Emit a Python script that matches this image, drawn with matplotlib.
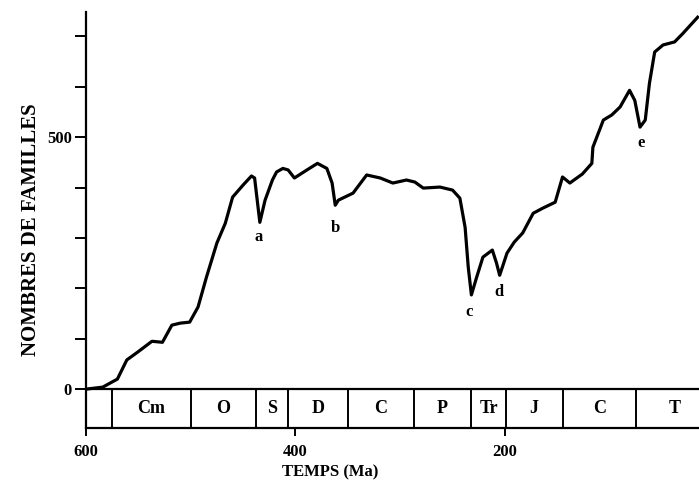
import numpy as np
import matplotlib
matplotlib.use("Agg")
import matplotlib.pyplot as plt

# courbe (Ma, nombre de familles)
ages = [600, 584, 570, 561, 551, 537, 527, 518, 510, 501, 493, 485, 475, 467,
        460, 450, 442, 439, 434, 429, 422, 418, 412, 407, 401, 389, 379, 370,
        365, 362, 359, 345, 332, 319, 307, 294, 286, 278, 262, 250, 243, 238,
        235, 232, 227, 221, 212, 208, 205, 198, 191, 183, 173, 164, 152, 145,
        138, 126, 117, 116, 106, 98, 90, 81, 76, 71, 66, 62, 57, 49, 38, 30, 16]
familles = [0, 4, 20, 58, 73, 95, 93, 127, 131, 133, 163, 222, 290, 329,
            381, 405, 423, 419, 331, 375, 415, 431, 438, 435, 419, 435, 448, 438,
            409, 365, 375, 389, 425, 419, 409, 415, 411, 399, 401, 395, 379, 321,
            242, 187, 222, 262, 276, 250, 226, 270, 292, 310, 349, 359, 371, 421,
            409, 427, 448, 480, 534, 544, 560, 593, 573, 520, 534, 607, 669, 683, 689, 706, 738]

# crises (lettres sous les creux)
crise_lettres = ["a", "b", "c", "d", "e"]
crise_age = [435, 362, 234, 206, 70]
crise_y = [302, 319, 153, 192, 488]

# periodes geologiques
limites = [600, 575, 500, 438, 407, 350, 287, 232, 199, 145, 75, 0]
periodes = ["", "Cm", "O", "S", "D", "C", "P", "Tr", "J", "C", "T"]

plt.rcParams['font.family'] = ['Liberation Serif', 'DejaVu Serif']
plt.rcParams['font.weight'] = 'bold'

fig = plt.figure(figsize=(6.99, 4.88), dpi=100)
ax = fig.add_axes([0.123, 0.122, 0.899, 0.853])

bas = -78
ax.plot(ages, familles, color='black', lw=2.3, solid_joinstyle='round')

# bandeau des periodes
ax.axhline(0, color='black', lw=1.6)
for b in limites[1:-1]:
    ax.plot([b, b], [bas, 0], color='black', lw=1.4)
for i, p in enumerate(periodes):
    xm = (limites[i] + limites[i + 1]) / 2
    ax.text(xm, bas / 2, p, ha='center', va='center', fontsize=13, fontweight='bold')

for l, xa, ya in zip(crise_lettres, crise_age, crise_y):
    ax.text(xa, ya, l, ha='center', va='center', fontsize=12, fontweight='bold')

ax.set_xlim(600, 0)
ax.set_ylim(bas, 748)
ax.spines['top'].set_visible(False)
ax.spines['right'].set_visible(False)
ax.spines['left'].set_linewidth(1.6)
ax.spines['bottom'].set_linewidth(1.6)

ax.set_yticks(np.arange(0, 800, 100))
ax.set_yticklabels(["0", "", "", "", "", "500", "", ""])
ax.set_xticks([600, 400, 200, 0])
ax.set_xticklabels(["600", "400", "200", "0"])
ax.tick_params(axis='y', direction='out', length=8, width=1.4, labelsize=12, pad=2)
ax.tick_params(axis='x', direction='out', length=6, width=1.4, labelsize=12, pad=5)
for t in ax.get_xticklabels() + ax.get_yticklabels():
    t.set_fontweight('bold')

ax.text(367, -165, "TEMPS (Ma)", ha='center', va='center', fontsize=12, fontweight='bold')
fig.text(0.045, 0.53, "NOMBRES DE FAMILLES", rotation=90, ha='center', va='center',
         fontsize=15, fontweight='bold')

fig.savefig("out.png", dpi=100)
